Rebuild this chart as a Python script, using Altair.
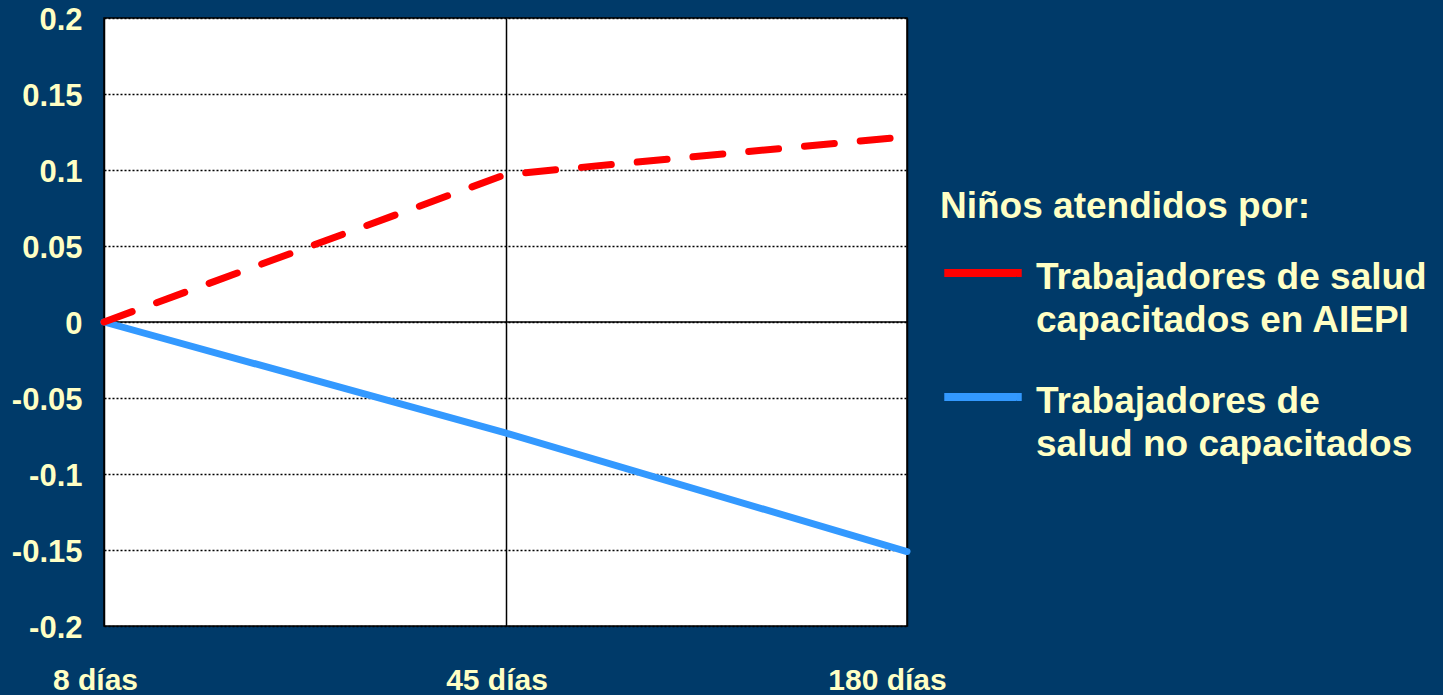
import altair as alt
import pandas as pd

periods = ["8 días", "45 días", "180 días"]
series = ["Trabajadores de salud\ncapacitados en AIEPI", "Trabajadores de\nsalud no capacitados"]
trained = [0.0, 0.097, 0.122]
untrained = [0.0, -0.073, -0.151]
y_ticks = [-0.2, -0.15, -0.1, -0.05, 0, 0.05, 0.1, 0.15, 0.2]
series_colors = ["#FF0000", "#3399FF"]
red_dash = [30, 26]
zero_line = [0]

BG = "#003A69"
TXT = "#FFFFC4"
FONT = "Liberation Sans"
LABEL_DY = -13

rows = []
for p, a, b in zip(periods, trained, untrained):
    rows.append({"period": p, "serie": series[0], "valor": a})
    rows.append({"period": p, "serie": series[1], "valor": b})
df = pd.DataFrame(rows)

x_enc = alt.X(
    "period:O", sort=periods, title=None,
    scale=alt.Scale(type="point", padding=0),
    axis=alt.Axis(
        labelAngle=0, ticks=False, domain=False, grid=True,
        gridColor="black", gridWidth=1.5,
        labelFont=FONT, labelFontSize=30, labelFontWeight="bold",
        labelColor=TXT, labelPadding=39 - LABEL_DY, labelBaseline="top",
        labelOffset=alt.condition("datum.value == '180 días'", alt.value(-20), alt.value(-9)),
    ),
)
y_enc = alt.Y(
    "valor:Q", title=None,
    scale=alt.Scale(domain=[-0.2, 0.2], nice=False),
    axis=alt.Axis(
        values=y_ticks, labelExpr="'' + datum.value",
        ticks=False, domain=False, grid=True,
        gridColor="black", gridDash=[2, 2], gridWidth=1.5,
        labelFont=FONT, labelFontSize=31, labelFontWeight="bold",
        labelColor=TXT, labelPadding=22, labelOffset=-LABEL_DY + 2,
    ),
)

color_enc = alt.Color(
    "serie:N",
    scale=alt.Scale(domain=series, range=series_colors),
    legend=alt.Legend(
        title="Niños atendidos por:", orient="none", legendX=836, legendY=171,
        symbolType="stroke", symbolSize=6000, symbolStrokeWidth=8, symbolDash=[1, 0],
        labelExpr="split(datum.label, '\\n')",
        labelFont=FONT, labelFontSize=37, labelFontWeight="bold", labelColor=TXT,
        titleFont=FONT, titleFontSize=37, titleFontWeight="bold", titleColor=TXT,
        titlePadding=4, rowPadding=15, labelOffset=10, labelBaseline="top",
        labelLimit=0, titleLimit=0, padding=0,
    ),
)

base = alt.Chart(df)
blue_line = base.transform_filter(alt.datum.serie == series[1]).mark_line(
    strokeWidth=7, strokeCap="round", strokeJoin="round"
).encode(x=x_enc, y=y_enc, color=color_enc)
red_line = base.transform_filter(alt.datum.serie == series[0]).mark_line(
    strokeWidth=7, strokeCap="round", strokeJoin="round", strokeDash=red_dash
).encode(x=x_enc, y=y_enc, color=color_enc)

zero = alt.Chart(pd.DataFrame({"y": zero_line})).mark_rule(color="black", strokeWidth=1.5).encode(
    y=alt.Y("y:Q")
)

chart = alt.layer(zero, blue_line, red_line).properties(
    width=803, height=608,
    autosize=alt.AutoSizeParams(type="none"),
    padding={"left": 104, "top": 18, "right": 536, "bottom": 69},
).configure(
    background=BG, style={"guide-label": {"lineHeight": 43, "dy": LABEL_DY}}
).configure_view(
    fill="white", stroke="black", strokeWidth=1.5
)

chart.save("out.html", embed_options={"renderer": "svg", "actions": False})
